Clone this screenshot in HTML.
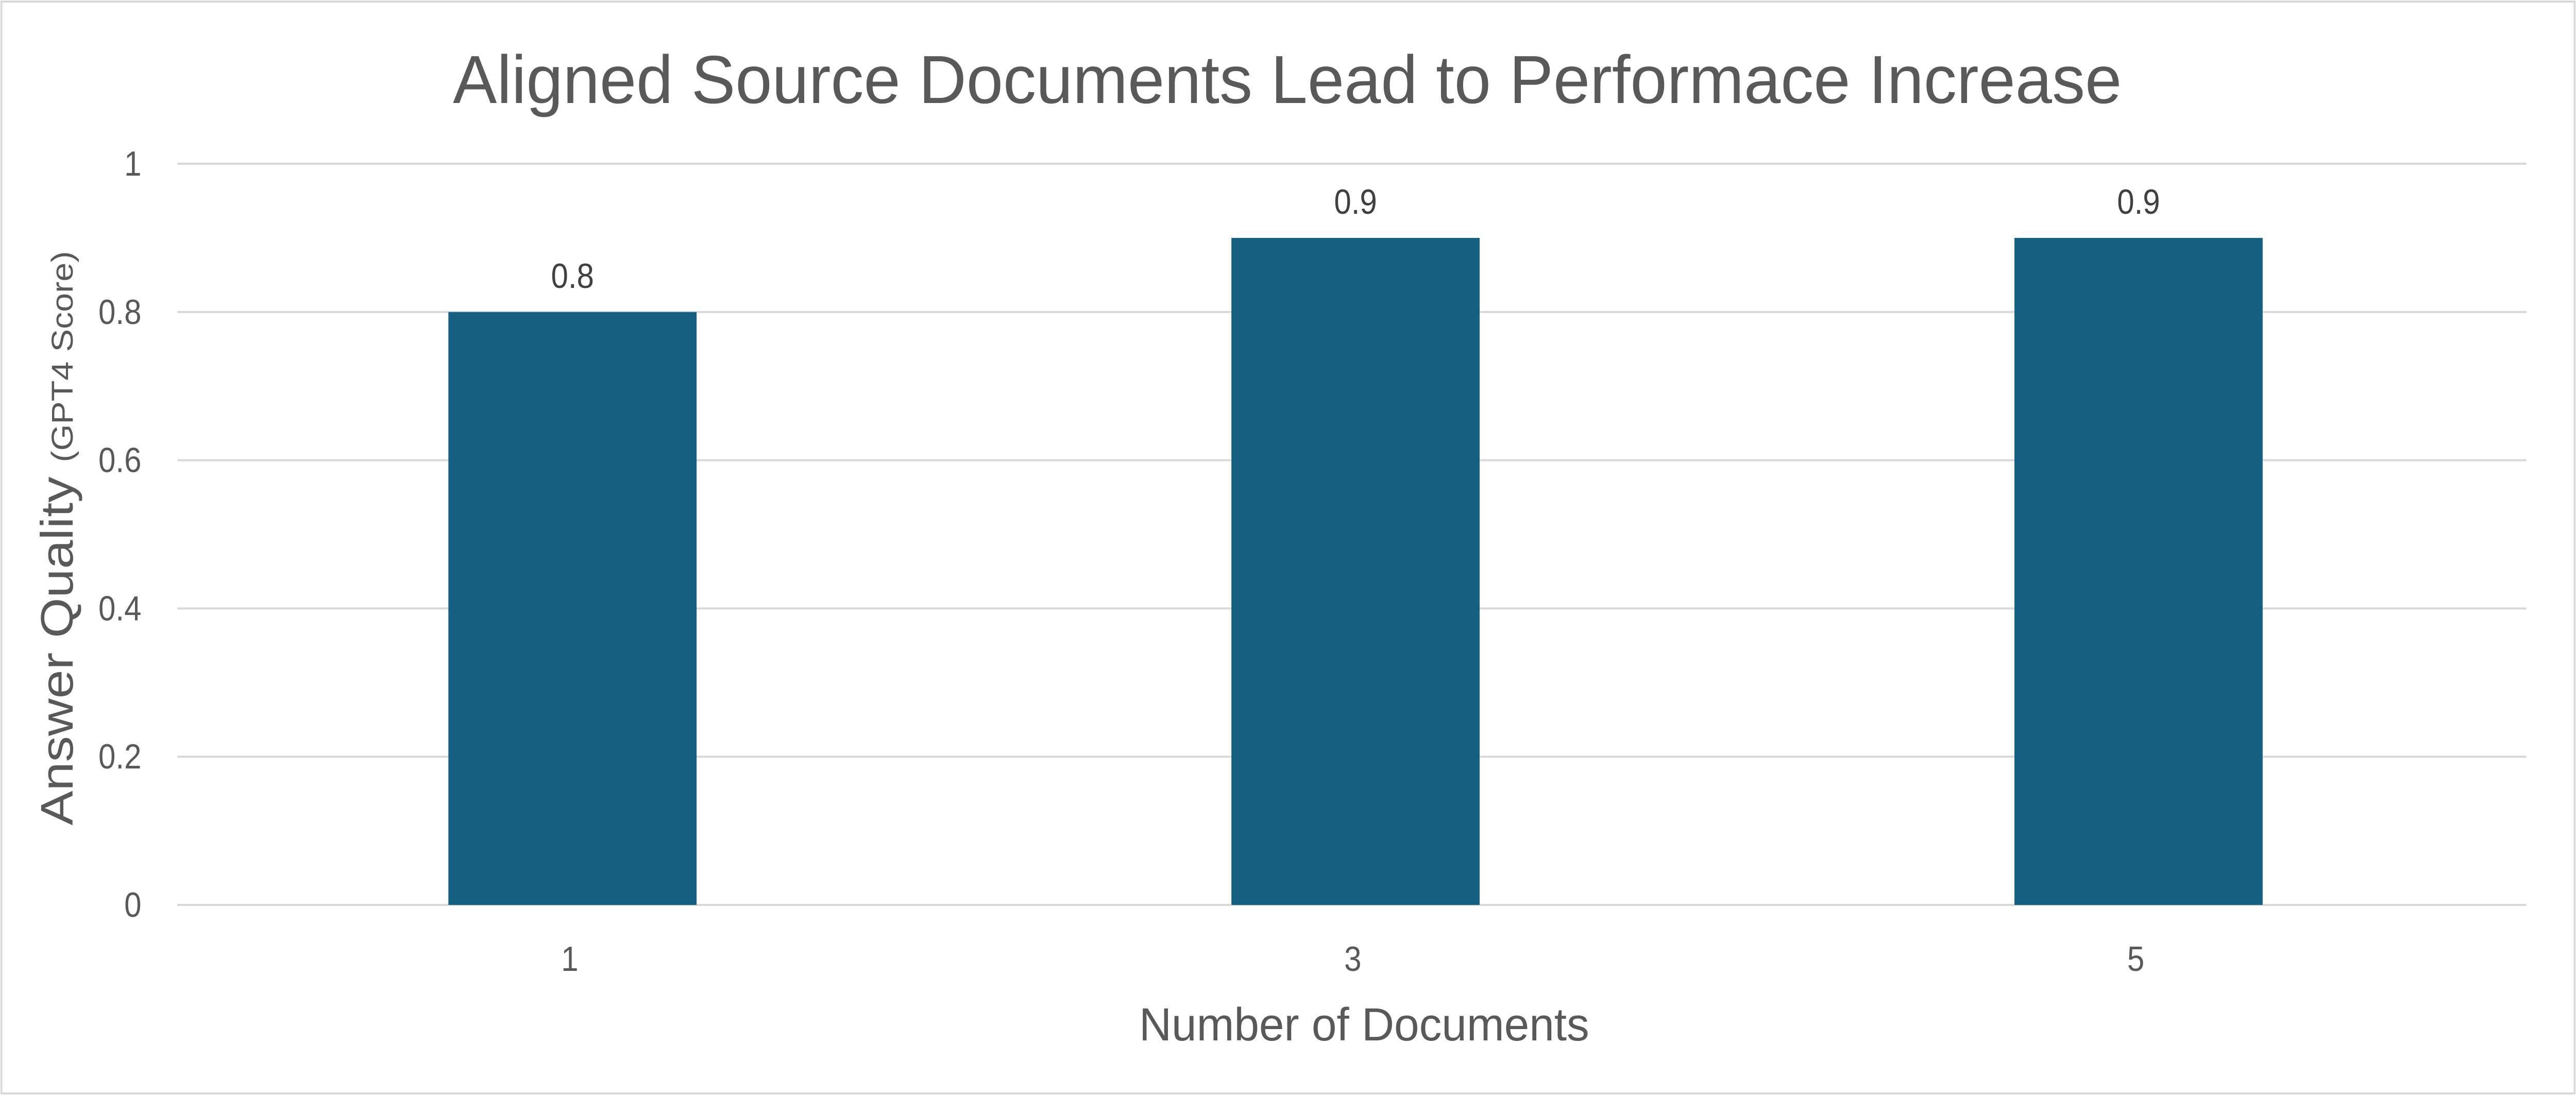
<!DOCTYPE html>
<html><head><meta charset="utf-8"><style>
html,body{margin:0;padding:0;background:#fff;width:100%;height:100%;overflow:hidden}
svg{display:block;font-family:"Liberation Sans",sans-serif;width:100vw;height:100vh}
</style></head><body>
<svg id="chart" viewBox="0 0 5665 2126" preserveAspectRatio="none" xmlns="http://www.w3.org/2000/svg">
<rect x="3" y="3" width="5659" height="2120" fill="#fff" stroke="#d9d9d9" stroke-width="4"/>
<text x="2831" y="200" text-anchor="middle" font-size="132" fill="#595959" textLength="3670" lengthAdjust="spacingAndGlyphs">Aligned Source Documents Lead to Performace Increase</text>
<g id="grid"></g>
<g id="bars"></g>
<g id="labels"></g>
<text transform="translate(160,1045) rotate(-90)" text-anchor="middle" fill="#595959" textLength="1115" lengthAdjust="spacingAndGlyphs"><tspan font-size="100">Answer Quality </tspan><tspan font-size="66">(GPT4 Score)</tspan></text>
<text x="3000" y="2020" text-anchor="middle" font-size="90" fill="#595959" textLength="990" lengthAdjust="spacingAndGlyphs">Number of Documents</text>
</svg>
<script>
const categories = ["1", "3", "5"];
const values = [0.8, 0.9, 0.9];
const yTicks = [0, 0.2, 0.4, 0.6, 0.8, 1];
const yTickLabels = ["0", "0.2", "0.4", "0.6", "0.8", "1"];
const dataLabels = ["0.8", "0.9", "0.9"];

const NS = "http://www.w3.org/2000/svg";
const X0 = 390, X1 = 5556, Y0 = 1757, Y1 = 318;
const yScale = v => Y0 - (v - 0) / (1 - 0) * (Y0 - Y1);
const band = (X1 - X0) / categories.length;
const xCenter = i => X0 + band * (i + 0.5);
const barW = band * 0.317;
function mk(tag, attrs, parent, txt) {
  const e = document.createElementNS(NS, tag);
  for (const k in attrs) e.setAttribute(k, attrs[k]);
  if (txt !== undefined) e.textContent = txt;
  parent.appendChild(e);
  return e;
}
const grid = document.getElementById('grid');
const bars = document.getElementById('bars');
const labels = document.getElementById('labels');
yTicks.forEach((t, i) => {
  const y = yScale(t);
  const l = mk('line', {x1: X0, x2: X1, y1: y, y2: y, stroke: '#d9d9d9', 'stroke-width': 4}, grid);
  
  
  const tx = mk('text', {x: 311, y: y + 23, 'text-anchor': 'end', 'font-size': 68, fill: '#595959'}, labels, yTickLabels[i]);
  
  
});
categories.forEach((c, i) => {
  const cx = xCenter(i) + 8;
  const top = yScale(values[i]);
  const r = mk('rect', {x: cx - barW / 2, y: top, width: barW, height: Y0 - top, fill: '#175f82'}, bars);
  
  
  const dl = mk('text', {x: cx, y: top - 47, 'text-anchor': 'middle', 'font-size': 68, fill: '#404040'}, labels, dataLabels[i]);
  
  
  const xl = mk('text', {x: cx - 6, y: 1885, 'text-anchor': 'middle', 'font-size': 68, fill: '#595959'}, labels, c);
  
  
});
</script>
</body></html>
